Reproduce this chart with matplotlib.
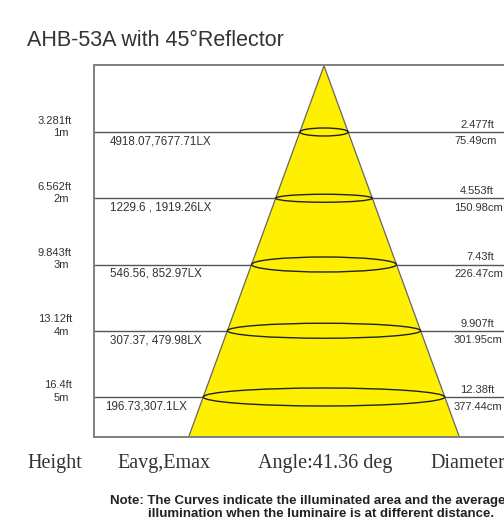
import matplotlib.pyplot as plt
import numpy as np
from matplotlib.patches import Ellipse, Polygon

# photometric data
heights_m = [1, 2, 3, 4, 5]
height_ft = ["3.281ft", "6.562ft", "9.843ft", "13.12ft", "16.4ft"]
lux_labels = ["4918.07,7677.71LX", "1229.6 , 1919.26LX", "546.56, 852.97LX",
              "307.37, 479.98LX", "196.73,307.1LX"]
diam_ft = ["2.477ft", "4.553ft", "7.43ft", "9.907ft", "12.38ft"]
diam_cm = [75.49, 150.98, 226.47, 301.95, 377.44]
beam_angle = 41.36

W, H = 504, 520
PX_X, PX_Y = 64.0, 66.25        # pixels per metre
APEX_X, APEX_Y = 324, 65.75
FRAME_L, FRAME_T, FRAME_B, FRAME_R = 94, 65, 437, 620


def dx(px):
    return (px - APEX_X) / PX_X


def dy(px):
    return (px - APEX_Y) / PX_Y


fig = plt.figure(figsize=(W / 100, H / 100), dpi=100)
ax = fig.add_axes([FRAME_L / W, 1 - FRAME_B / H, (FRAME_R - FRAME_L) / W, (FRAME_B - FRAME_T) / H])
ax.set_xlim(dx(FRAME_L), dx(FRAME_R))
ax.set_ylim(dy(FRAME_B), dy(FRAME_T))
ax.set_xticks([])
ax.set_yticks([])
for s in ["left", "top", "bottom"]:
    ax.spines[s].set_color("#808080")
    ax.spines[s].set_linewidth(1.4)
ax.spines["right"].set_visible(False)

sans = ["Liberation Sans", "DejaVu Sans"]
serif = ["Liberation Serif", "DejaVu Serif"]
txt = "#333333"

# level lines
for h in heights_m:
    ax.axhline(h, color="#555555", lw=1.0, zorder=1)

# beam cone
half = np.tan(np.radians(beam_angle / 2))
depth = dy(FRAME_B)
cone = Polygon([(0, 0), (-half * depth, depth), (half * depth, depth)], closed=True,
               facecolor="#FFEF00", edgecolor="#666666", lw=0.9, zorder=2)
ax.add_patch(cone)

ring_h = [8, 8, 15, 15, 18]   # ellipse heights in px
for h, d, rh in zip(heights_m, diam_cm, ring_h):
    ax.add_patch(Ellipse((0, h), d / 100, rh / PX_Y, facecolor="none",
                         edgecolor="#222222", lw=1.0, zorder=3))

# labels
for h, ft, lx, dft, dcm in zip(heights_m, height_ft, lux_labels, diam_ft, diam_cm):
    ax.text(dx(72), h - 11.5 / PX_Y, ft, ha="right", va="center", fontsize=8,
            family=sans, color=txt)
    ax.text(dx(69), h + 1 / PX_Y, f"{h}m", ha="right", va="center", fontsize=8,
            family=sans, color=txt)
    lx_x = 105 if h == 5 else 110
    ax.text(dx(lx_x), h + 9.5 / PX_Y, lx, ha="left", va="center", fontsize=8.4,
            family=sans, color=txt)
    ax.text(dx(494), h - 7 / PX_Y, dft, ha="right", va="center", fontsize=8,
            family=sans, color=txt)
    ax.text(dx(454), h + 9.5 / PX_Y, f"{dcm:.2f}cm", ha="left", va="center", fontsize=8,
            family=sans, color=txt)

fig.text(27 / W, 1 - 46 / H, "AHB-53A with 45°Reflector", ha="left", va="baseline",
         fontsize=15.5, family=sans, color=txt)

for x, s in [(27, "Height"), (117, "Eavg,Emax"), (258, f"Angle:{beam_angle} deg"),
             (430, "Diameter")]:
    fig.text(x / W, 1 - 468 / H, s, ha="left", va="baseline", fontsize=14.5,
             family=serif, color=txt)

fig.text(110 / W, 1 - 501 / H, "Note: The Curves indicate the illuminated area and the average",
         ha="left", va="center", fontsize=9.5, family=sans, fontweight="bold", color="#222222")
fig.text(148 / W, 1 - 514 / H, "illumination when the luminaire is at different distance.",
         ha="left", va="center", fontsize=9.5, family=sans, fontweight="bold", color="#222222")

fig.savefig("out.png", dpi=100, facecolor="white")
